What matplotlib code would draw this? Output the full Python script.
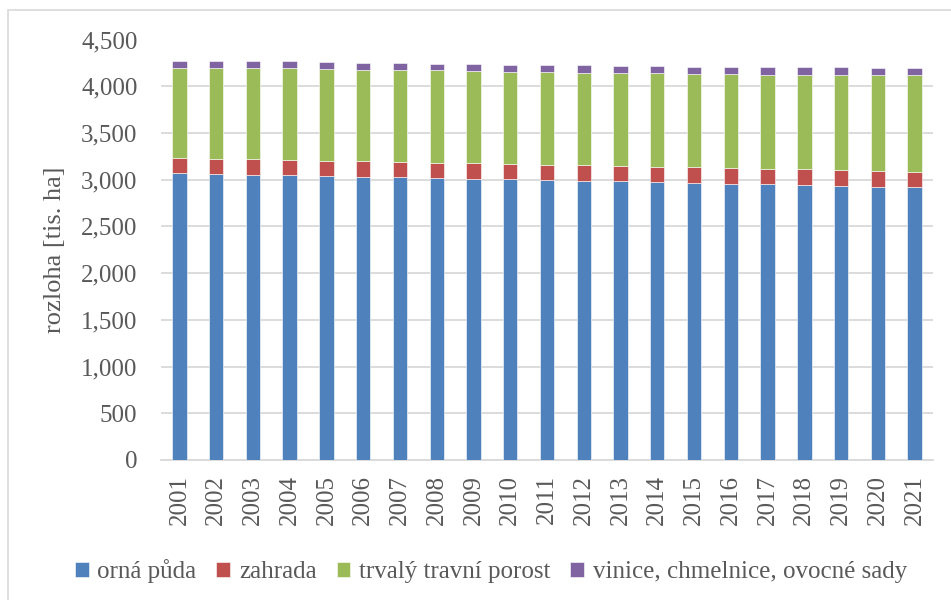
import matplotlib
matplotlib.use("Agg")
import matplotlib.pyplot as plt
from matplotlib.patches import Rectangle
from matplotlib.ticker import FuncFormatter, MultipleLocator

years = [str(y) for y in range(2001, 2022)]
orna_puda = [3067, 3061, 3054, 3046, 3039, 3032, 3025, 3018, 3008, 3002, 2996,
             2989, 2982, 2974, 2966, 2958, 2952, 2943, 2932, 2922, 2917]
zahrada = [163, 162, 164, 165, 163, 164, 164, 162, 166, 165, 162,
           164, 164, 162, 166, 167, 163, 167, 170, 170, 168]
travni_porost = [966, 974, 972, 979, 981, 980, 980, 989, 986, 987, 996,
                 993, 993, 1003, 999, 1006, 1010, 1015, 1023, 1033, 1040]
vinice_sady = [79, 74, 78, 75, 77, 77, 77, 72, 78, 78, 72,
               78, 78, 75, 80, 76, 80, 80, 80, 75, 75]

series = [
    ("orná půda", orna_puda, "#4F81BD"),
    ("zahrada", zahrada, "#C0504D"),
    ("trvalý travní porost", travni_porost, "#9BBB59"),
    ("vinice, chmelnice, ovocné sady", vinice_sady, "#8064A2"),
]

plt.rcParams['font.family'] = ['Liberation Serif', 'DejaVu Serif']
text_color = "#595959"
grid_color = "#D9D9D9"

W, H = 951, 600
fig = plt.figure(figsize=(W / 100, H / 100), dpi=100)
ax = fig.add_axes([161 / W, 1 - 460 / H, (933 - 161) / W, (460 - 39.5) / H])

x = list(range(len(years)))
bottom = [0] * len(years)
handles = []
for name, vals, col in series:
    b = ax.bar(x, vals, width=0.39, bottom=bottom, color=col, label=name,
               edgecolor="white", linewidth=0.4, zorder=3)
    handles.append(b)
    bottom = [bb + v for bb, v in zip(bottom, vals)]

ax.set_xlim(-0.5, len(years) - 0.5)
ax.set_ylim(0, 4500)
ax.yaxis.set_major_locator(MultipleLocator(500))
ax.yaxis.set_major_formatter(FuncFormatter(lambda v, p: f"{int(v):,}"))
ax.grid(axis="y", color=grid_color, linewidth=1.3, zorder=0)
ax.set_axisbelow(True)
for s in ["top", "right", "left"]:
    ax.spines[s].set_visible(False)
ax.spines["bottom"].set_color(grid_color)
ax.spines["bottom"].set_linewidth(1.3)
ax.set_xticks(x)
ax.set_xticklabels(years, rotation=90)
ax.tick_params(axis="both", length=0, colors=text_color, labelsize=18)
ax.tick_params(axis="y", pad=17)
ax.tick_params(axis="x", pad=11)
ax.set_ylabel("rozloha [tis. ha]", color=text_color, fontsize=19, labelpad=11)

leg = fig.legend(handles=handles, loc="center", ncol=4,
                 bbox_to_anchor=(491 / W, 1 - 571 / H), frameon=False,
                 fontsize=18, handlelength=0.55, handleheight=0.55,
                 handletextpad=0.35, columnspacing=0.8, labelcolor=text_color)

fig.patches.append(Rectangle((7.5 / W, -0.5), 2, 1.5 - 10 / H,
                             transform=fig.transFigure, fill=False,
                             edgecolor=grid_color, linewidth=1.2))

fig.savefig("out.png", dpi=100, facecolor="white")
